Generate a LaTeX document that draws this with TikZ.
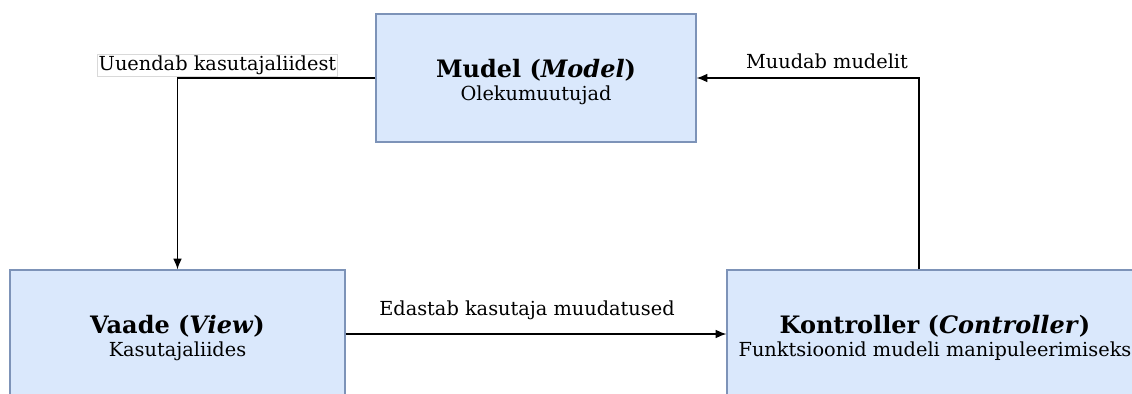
\documentclass[tikz,border=0pt]{standalone}
\usepackage{fontspec}
\setmainfont{DejaVu Serif}
\usetikzlibrary{arrows.meta}
\definecolor{boxfill}{HTML}{DAE8FC}
\definecolor{boxline}{HTML}{7D93B8}
\tikzset{
  mvcbox/.style={draw=boxline, fill=boxfill, line width=0.9pt, align=center, inner sep=0pt, font=\fontsize{14.5}{18}\selectfont},
  edgelbl/.style={font=\fontsize{14.5}{16}\selectfont, inner sep=1pt},
  conn/.style={-{Latex[length=8pt,width=6.5pt]}, line width=1pt}
}
\newcommand{\ttl}[1]{{\fontsize{18}{19}\selectfont\bfseries\rule{0pt}{20pt}#1}}
\begin{document}
\begin{tikzpicture}[x=0.75pt,y=-0.75pt]
		\clip (0,0) rectangle (1132,393);
		\fill[white] (0,0) rectangle (1132,393);
		% komponendid
		\node[mvcbox, minimum width=240pt, minimum height=96pt] (model) at (536,78) {\ttl{Mudel (\textit{Model})}\\[-1pt]Olekumuutujad};
		\node[mvcbox, minimum width=251.25pt, minimum height=96pt] (view) at (177.5,334) {\ttl{Vaade (\textit{View})}\\[-1pt]Kasutajaliides};
		\node[mvcbox, minimum width=312pt, minimum height=96pt] (ctrl) at (935,334) {\ttl{Kontroller (\textit{Controller})}\\[-1pt]Funktsioonid mudeli manipuleerimiseks};
		% seosed
		\draw[conn] (model.west) -| (view.north);
		\draw[conn] ([xshift=-12pt]ctrl.north) |- (model.east);
		\draw[conn] (view.east) -- (ctrl.west);
		\node[edgelbl, draw=black!15, fill=white] (uuendab) at (217.5,65) {Uuendab kasutajaliidest};
		\node[edgelbl] (muudab) at (827,61) {Muudab mudelit};
		\node[edgelbl] (edastab) at (527,310) {Edastab kasutaja muudatused};
\end{tikzpicture}
\end{document}
